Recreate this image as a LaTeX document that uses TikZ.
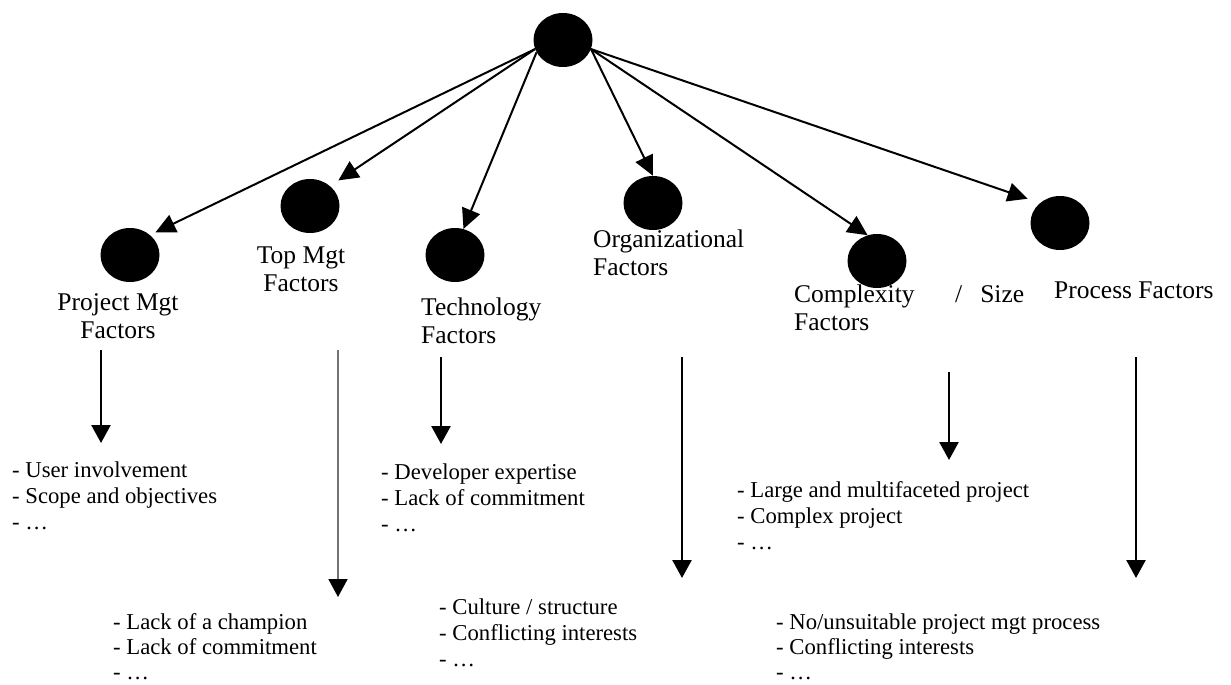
\documentclass[tikz,border=0pt]{standalone}
\usepackage{fontspec}
\setmainfont{Liberation Serif}
\usetikzlibrary{arrows.meta,shapes.geometric}
\newcommand{\itemlines}[3]{\vtop{\hbox{#1}\hbox{#2}\hbox{#3}}}
\begin{document}
\begin{tikzpicture}[x=1pt,y=-1pt,
  dot/.style={ellipse,fill=black,minimum width=59pt,minimum height=54pt,inner sep=0pt},
  lbl/.style={inner sep=0pt,font=\fontsize{25.5}{28.5}\selectfont},
  items/.style={inner sep=0pt,font=\fontsize{22.7}{26}\selectfont,anchor=base west},
  lowitems/.style={items,font=\fontsize{22.7}{25}\selectfont},
  link/.style={line width=2pt,-{Triangle[width=19pt,length=20pt]}},
  downarrow/.style={line width=2.5pt,-{Triangle[width=19pt,length=18pt]}}]
\useasboundingbox (0,0) rectangle (1231,685);
% circles
\node[dot] (root) at (563,40) {};
\node[dot] (pm) at (130,255) {};
\node[dot] (tm) at (310,206) {};
\node[dot] (te) at (455,255) {};
\node[dot] (or) at (653,203) {};
\node[dot] (cx) at (877,261) {};
\node[dot] (pr) at (1060,223) {};
% links from root
\draw[link,shorten >=6pt] (root.198) -- (pm.45);
\draw[link,shorten >=10pt] (root.198) -- (tm.45);
\draw[link] (root.205) -- (te.72);
\draw[link] (root.342) -- (or.90);
\draw[link] (root.342) -- (cx.110);
\draw[link,shorten >=13pt] (root.342) -- (pr.135);
% labels
\node[lbl,anchor=base] (pmL) at (118,310) {\begin{tabular}[t]{@{}c@{}}Project Mgt\\Factors\end{tabular}};
\node[lbl,anchor=base] (tmL) at (301,263) {\begin{tabular}[t]{@{}c@{}}Top Mgt\\Factors\end{tabular}};
\node[lbl,anchor=base west] (teL) at (421,315) {\begin{tabular}[t]{@{}l@{}}Technology\\Factors\end{tabular}};
\node[lbl,anchor=base west] (orL) at (593,247) {\begin{tabular}[t]{@{}l@{}}Organizational\\Factors\end{tabular}};
\node[lbl,anchor=base west] (cxL) at (794,302) {\begin{tabular}[t]{@{}l@{}}Complexity\\Factors\end{tabular}};
\node[lbl,anchor=base west] (szL) at (955,302) {/\hspace{18pt}Size};
\node[lbl,anchor=base west] (prL) at (1054,298) {Process Factors};
% item lists
\node[items] (pmI) at (12,477) {\itemlines{- User involvement}{- Scope and objectives}{- …}};
\node[items] (teI) at (381,479) {\itemlines{- Developer expertise}{- Lack of commitment}{- …}};
\node[lowitems] (tmI) at (113,629) {\itemlines{- Lack of a champion}{- Lack of commitment}{- …}};
\node[items] (orI) at (439,614) {\itemlines{- Culture / structure}{- Conflicting interests}{- …}};
\node[items] (cxI) at (737,497) {\itemlines{- Large and multifaceted project}{- Complex project}{- …}};
\node[lowitems] (prI) at (776,629) {\itemlines{- No/unsuitable project mgt process}{- Conflicting interests}{- …}};
% downward arrows
\coordinate (pmA) at (101,350); \coordinate (pmB) at (101,443);
\coordinate (tmA) at (338,350); \coordinate (tmB) at (338,597);
\coordinate (teA) at (441,357); \coordinate (teB) at (441,444);
\coordinate (orA) at (682,357); \coordinate (orB) at (682,578);
\coordinate (cxA) at (949,372); \coordinate (cxB) at (949,460);
\coordinate (prA) at (1136,357); \coordinate (prB) at (1136,578);
\draw[downarrow] (pmA) -- (pmB);
\draw[downarrow,draw=black!55,line width=1.8pt,-{Triangle[width=19pt,length=18pt,color=black]}] (tmA) -- (tmB);
\draw[downarrow] (teA) -- (teB);
\draw[downarrow] (orA) -- (orB);
\draw[downarrow] (cxA) -- (cxB);
\draw[downarrow] (prA) -- (prB);
\end{tikzpicture}
\end{document}
